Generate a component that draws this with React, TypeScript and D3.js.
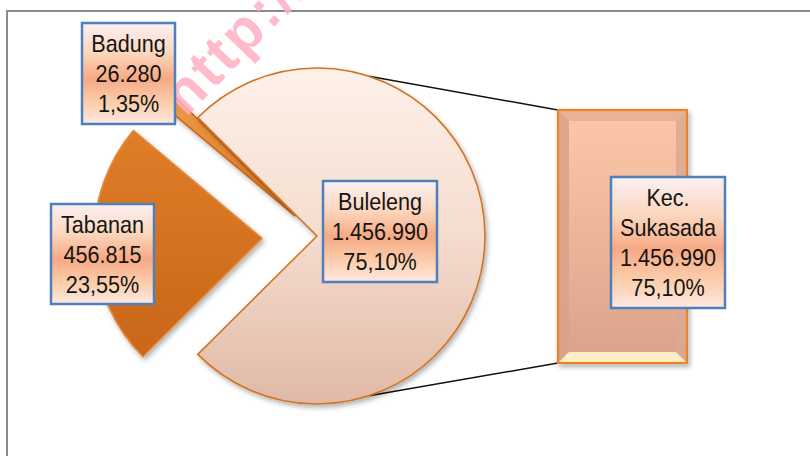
import React from "react";
import * as d3 from "d3";

// ---- data ----
const sliceNames = ["Tabanan", "Badung", "Buleleng"];
const sliceValues = [456815, 26280, 1456990];
const barNames = ["Kec. Sukasada"];
const barValues = [1456990];
const watermark = "http://";

const W = 810;
const H = 456;
const cx = 317;
const cy = 236;
const R = 168;
const toRad = (d: number) => (d * Math.PI) / 180;
const startDeg = -134.8;
const explode = [55, 30, 0];

const labelBoxes = [
  { x: 51, y: 204, w: 103, h: 100 },
  { x: 82, y: 23, w: 93, h: 101 },
  { x: 323, y: 181, w: 114, h: 101 },
];
const barBox = { x: 611, y: 177, w: 114, h: 131 };

const loc = d3.formatLocale({ decimal: ",", thousands: ".", grouping: [3], currency: ["", ""] });
const fmtNum = loc.format(",d");
const fmtPct = (v: number) => (v * 100).toFixed(2).replace(".", ",") + "%";

function Label({ box, lines }: { box: { x: number; y: number; w: number; h: number }; lines: string[] }) {
  const mid = box.y + box.h / 2;
  const step = 30;
  const first = mid - ((lines.length - 1) * step) / 2;
  const tx = box.x + box.w / 2;
  return (
    <g>
      <rect x={box.x} y={box.y} width={box.w} height={box.h} fill="url(#lblGrad)" stroke="#4f7fbd" strokeWidth={2.5} />
      {lines.map((t, i) => (
        <text
          key={i}
          transform={`translate(${tx},${first + i * step + 8.6}) scale(0.9,1)`}
          textAnchor="middle"
          fontFamily="'Liberation Sans', Arial, sans-serif"
          fontSize={24}
          fill="#151515"
        >
          {t}
        </text>
      ))}
    </g>
  );
}

export default function App() {
  const total = d3.sum(sliceValues);
  const pie = d3
    .pie<number>()
    .sort(null)
    .startAngle(toRad(startDeg))
    .endAngle(toRad(startDeg + 360));
  const arcs = pie(sliceValues);
  const arcGen = d3.arc<d3.PieArcDatum<number>>().innerRadius(0).outerRadius(R);
  const fills = ["url(#tabGrad)", "url(#badGrad)", "url(#bulGrad)"];
  const strokes = ["#e48a3c", "#c8661b", "#d27422"];

  const barTotal = d3.sum(barValues);
  const y = d3.scaleLinear().domain([0, barTotal]).range([363, 110]);
  const x0 = 558;
  const x1 = 687;
  const bv = 11;

  const aTop = toRad(18);
  const aBot = toRad(162);
  const pTop = [cx + R * Math.sin(aTop), cy - R * Math.cos(aTop)];
  const pBot = [cx + R * Math.sin(aBot), cy - R * Math.cos(aBot)];

  let acc = 0;
  const segs = barValues.map((v) => {
    const s = { y0: y(acc + v), y1: y(acc) };
    acc += v;
    return s;
  });

  return (
    <svg width={W} height={H} style={{ position: "absolute", left: 0, top: 0, background: "#fff" }}>
      <defs>
        <linearGradient id="lblGrad" x1="0" y1="0" x2="0" y2="1">
          <stop offset="0" stopColor="#fbf0f2" />
          <stop offset="0.3" stopColor="#fbd6bc" />
          <stop offset="0.55" stopColor="#f7a984" />
          <stop offset="0.8" stopColor="#fbcfae" />
          <stop offset="1" stopColor="#fde8e2" />
        </linearGradient>
        <linearGradient id="bulGrad" x1="0" y1="0" x2="0" y2="1">
          <stop offset="0" stopColor="#fdf1e9" />
          <stop offset="0.5" stopColor="#f5dcce" />
          <stop offset="1" stopColor="#e0b9a6" />
        </linearGradient>
        <linearGradient id="tabGrad" x1="0" y1="0" x2="0" y2="1">
          <stop offset="0" stopColor="#e07d28" />
          <stop offset="1" stopColor="#c9661a" />
        </linearGradient>
        <linearGradient id="badGrad" x1="0" y1="0" x2="1" y2="1">
          <stop offset="0" stopColor="#ef9a4a" />
          <stop offset="1" stopColor="#d6721f" />
        </linearGradient>
        <linearGradient id="barGrad" x1="0" y1="0" x2="0" y2="1">
          <stop offset="0" stopColor="#fdc8a9" />
          <stop offset="1" stopColor="#d9a38b" />
        </linearGradient>
        <filter id="shadow" x="-20%" y="-20%" width="140%" height="140%">
          <feDropShadow dx="2" dy="3" stdDeviation="2.5" floodColor="#000" floodOpacity="0.3" />
        </filter>
      </defs>

      {/* frame */}
      <line x1={7} y1={11} x2={W} y2={11} stroke="#8a8a8a" strokeWidth={2} />
      <line x1={7} y1={10} x2={7} y2={H} stroke="#8a8a8a" strokeWidth={2} />

      {/* connectors */}
      <line x1={pTop[0]} y1={pTop[1]} x2={x0} y2={y(barTotal)} stroke="#111" strokeWidth={1.4} />
      <line x1={pBot[0]} y1={pBot[1]} x2={x0} y2={y(0)} stroke="#111" strokeWidth={1.4} />

      {/* pie */}
      {arcs.map((a, i) => {
        const mid = (a.startAngle + a.endAngle) / 2;
        const dx = explode[i] * Math.sin(mid);
        const dy = -explode[i] * Math.cos(mid);
        return (
          <g key={i} transform={`translate(${cx + dx},${cy + dy})`} filter="url(#shadow)">
            <path d={arcGen(a) || ""} fill={fills[i]} stroke={strokes[i]} strokeWidth={1.6} strokeLinejoin="round" />
          </g>
        );
      })}

      {/* bar with bevel */}
      {segs.map((s, i) => (
        <g key={i} filter="url(#shadow)">
          <rect x={x0} y={s.y0} width={x1 - x0} height={s.y1 - s.y0} fill="url(#barGrad)" />
          <polygon points={`${x0},${s.y0} ${x1},${s.y0} ${x1 - bv},${s.y0 + bv} ${x0 + bv},${s.y0 + bv}`} fill="#e9b197" />
          <polygon points={`${x0},${s.y0} ${x0 + bv},${s.y0 + bv} ${x0 + bv},${s.y1 - bv} ${x0},${s.y1}`} fill="#d8a188" opacity={0.85} />
          <polygon points={`${x1},${s.y0} ${x1 - bv},${s.y0 + bv} ${x1 - bv},${s.y1 - bv} ${x1},${s.y1}`} fill="#dba891" opacity={0.85} />
          <polygon points={`${x0},${s.y1} ${x0 + bv},${s.y1 - bv} ${x1 - bv},${s.y1 - bv} ${x1},${s.y1}`} fill="#fdeec4" />
          <rect x={x0} y={s.y0} width={x1 - x0} height={s.y1 - s.y0} fill="none" stroke="#e7832c" strokeWidth={2.2} />
        </g>
      ))}

      {/* watermark */}
      <text
        transform="translate(186,118) rotate(-46)"
        fontFamily="'Liberation Sans', Arial, sans-serif"
        fontWeight="bold"
        fontSize={58}
        letterSpacing={3}
        fill="#ffb0c3"
        opacity={0.85}
      >
        {watermark}
      </text>

      {/* labels */}
      {arcs.map((a, i) => (
        <Label
          key={i}
          box={labelBoxes[i]}
          lines={[sliceNames[i], fmtNum(sliceValues[i]), fmtPct(sliceValues[i] / total)]}
        />
      ))}
      <Label box={barBox} lines={["Kec.", "Sukasada", fmtNum(barValues[0]), fmtPct(barValues[0] / total)]} />
    </svg>
  );
}
